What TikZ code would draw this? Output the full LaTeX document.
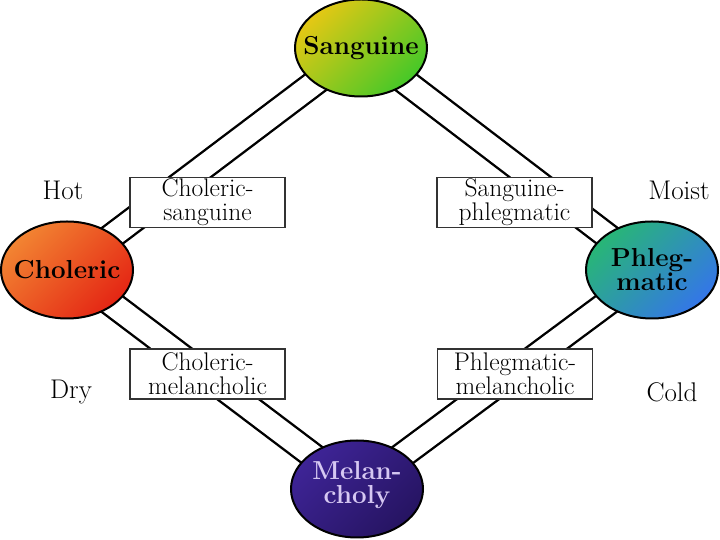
\documentclass[tikz,border=0pt]{standalone}
\usepackage{xcolor}
\usepackage{tikz}
\usetikzlibrary{shapes.geometric}
\usetikzlibrary{backgrounds}
\tikzset{humour/.style = {ellipse, draw = black, line width = 2pt, minimum width = 132pt, minimum height = 97pt, inner sep = 0pt}}
\tikzset{humourtext/.style = {font = \fontsize{26}{24}\selectfont\bfseries, align = center, inner sep = 0pt}}
\tikzset{mixbox/.style = {draw = black!80, line width = 1.3pt, fill = white, minimum width = 155pt, minimum height = 50pt, inner sep = 1pt, align = center, font = \fontsize{25.5}{24}\selectfont}}
\tikzset{quality/.style = {font = \fontsize{27}{22}\selectfont, inner sep = 0pt}}
\tikzset{bond/.style = {line width = 2.4pt, double = white, double distance = 22.6pt}}

\begin{document}
\begin{tikzpicture}[x=1pt,y=1pt]
\definecolor{sanTop}{RGB}{228,200,20}
\definecolor{sanBot}{RGB}{70,200,40}
\definecolor{cholTop}{RGB}{242,132,50}
\definecolor{cholBot}{RGB}{228,38,20}
\definecolor{phlTop}{RGB}{40,182,118}
\definecolor{phlBot}{RGB}{52,118,232}
\definecolor{melTop}{RGB}{62,36,150}
\definecolor{melBot}{RGB}{38,20,98}
\definecolor{melText}{RGB}{214,200,242}
\path[use as bounding box] (0,0) rectangle (720,540);

% the four humours
\node[humour, top color = sanTop, bottom color = sanBot, shading angle = 45] (san) at (361,492) {};
\node[humour, top color = cholTop, bottom color = cholBot, shading angle = 45] (chol) at (67,270) {};
\node[humour, top color = phlTop, bottom color = phlBot, shading angle = 45] (phl) at (652,270) {};
\node[humour, top color = melTop, bottom color = melBot, shading angle = 45] (mel) at (357,51) {};

\node[humourtext] (sanL) at (san.center) {Sanguine};
\node[humourtext] (cholL) at (chol.center) {Choleric};
\node[humourtext] (phlL) at (phl.center) {Phleg-\\matic};
\node[humourtext, text = melText] (melL) at ([yshift=4pt]mel.center) {Melan-\\choly};

% bonds between them
\begin{scope}[on background layer]
\draw[bond] (san.center) -- (chol.center);
\draw[bond] (san.center) -- (phl.center);
\draw[bond] (chol.center) -- (mel.center);
\draw[bond] (phl.center) -- (mel.center);
\end{scope}

% mixed temperaments
\node[mixbox] (cholsan) at (207.5,337.5) {Choleric-\\sanguine};
\node[mixbox] (sanphl) at (514.5,337.5) {Sanguine-\\phlegmatic};
\node[mixbox] (cholmel) at (207.5,166) {Choleric-\\melancholic};
\node[mixbox] (phlmel) at (515,166) {Phlegmatic-\\melancholic};

% qualities
\node[quality] (hot) at (63,350) {Hot};
\node[quality] (moist) at (679,350) {Moist};
\node[quality] (dry) at (71,148) {Dry};
\node[quality] (cold) at (672,148) {Cold};
\end{tikzpicture}
\end{document}
